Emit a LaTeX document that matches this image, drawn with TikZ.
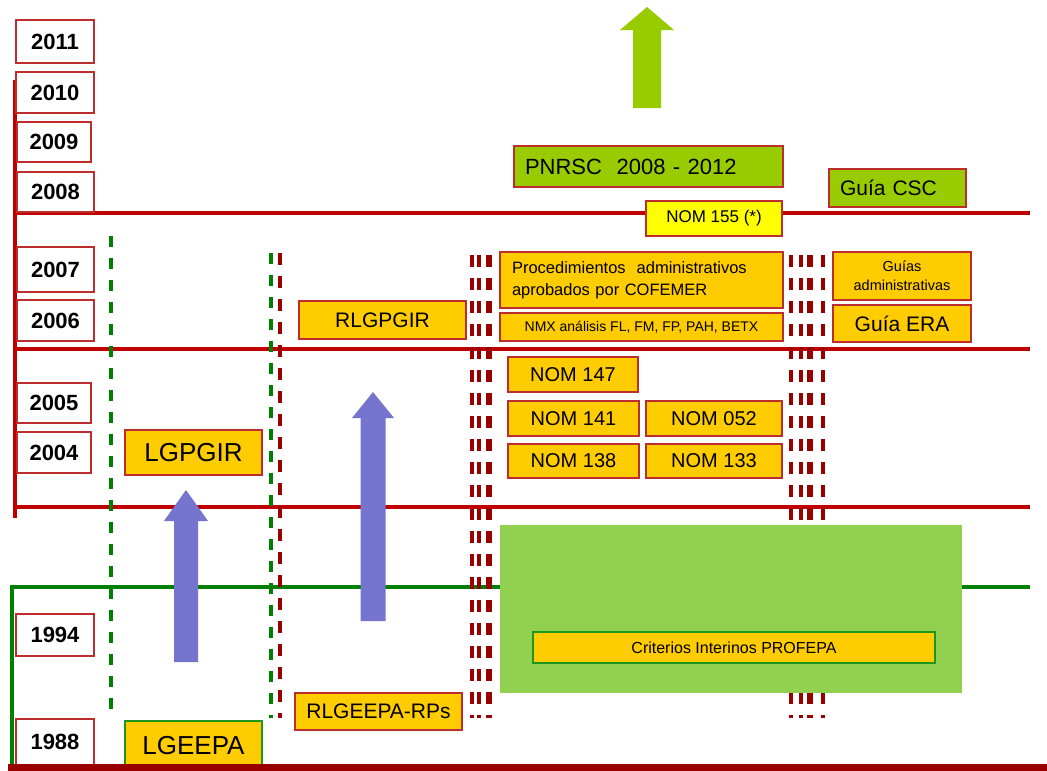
\documentclass[tikz,border=0pt]{standalone}
\usepackage{fontspec}
\setmainfont{Liberation Sans}
\definecolor{lred}{RGB}{192,0,0}
\definecolor{dred}{RGB}{153,0,0}
\definecolor{bred}{RGB}{190,45,45}
\definecolor{gold}{RGB}{255,204,0}
\definecolor{yel}{RGB}{255,255,0}
\definecolor{lime}{RGB}{153,204,0}
\definecolor{dgreen}{RGB}{0,128,0}
\definecolor{mgreen}{RGB}{30,150,30}
\definecolor{lgreen}{RGB}{146,208,80}
\definecolor{lav}{RGB}{117,117,207}
\tikzset{
  yearbox/.style={draw=bred, line width=1.5pt, fill=white, inner sep=0pt, font=\fontsize{22pt}{24pt}\selectfont\bfseries},
  gbox/.style={draw=bred, line width=2pt, fill=gold, inner sep=0pt},
  limebox/.style={draw=bred, line width=2pt, fill=lime, inner sep=0pt},
  redline/.style={lred, line width=3.5pt},
  greenline/.style={dgreen, line width=4pt},
  rdash/.style={dred, dash pattern=on 12pt off 11pt},
  gdash/.style={dgreen, line width=4pt, dash pattern=on 11pt off 11pt},
  uparrow/.style={fill=lav, draw=none},
}
\begin{document}
\begin{tikzpicture}[x=1pt, y=-1pt]
\useasboundingbox (0,0) rectangle (1047,771);

% timeline frame lines
\draw[redline] (15,80) -- (15,518);
\draw[redline] (15,213) -- (1030,213);
\draw[redline] (15,349) -- (1030,349);
\draw[redline] (15,507) -- (1030,507);
\draw[greenline] (1030,587) -- (12,587) -- (12,771);

% dashed separators
\draw[gdash] (111,236) -- (111,718);
\draw[gdash] (271,253) -- (271,718);
\draw[rdash, line width=4pt] (280,253) -- (280,718);
\draw[rdash, line width=4pt] (472,255) -- (472,718);
\draw[rdash, line width=3.5pt] (479,255) -- (479,718);
\draw[rdash, line width=6pt] (489,255) -- (489,718);
\draw[rdash, line width=4.5pt] (791,255) -- (791,718);
\draw[rdash, line width=4.5pt] (801,255) -- (801,718);
\draw[rdash, line width=6pt] (810,255) -- (810,718);
\draw[rdash, line width=4pt] (823,255) -- (823,718);

% years
\node[yearbox, minimum width=78pt, minimum height=43pt] (y2011) at (55,41.5) {2011};
\node[yearbox, minimum width=78pt, minimum height=41pt] (y2010) at (55,92.5) {2010};
\node[yearbox, minimum width=74pt, minimum height=40pt] (y2009) at (54,142) {2009};
\node[yearbox, minimum width=77pt, minimum height=40pt] (y2008) at (55.5,192) {2008};
\node[yearbox, minimum width=77pt, minimum height=45pt] (y2007) at (55.5,269.5) {2007};
\node[yearbox, minimum width=77pt, minimum height=41pt] (y2006) at (55.5,320.5) {2006};
\node[yearbox, minimum width=74pt, minimum height=40pt] (y2005) at (54,403) {2005};
\node[yearbox, minimum width=74pt, minimum height=41pt] (y2004) at (54,452.5) {2004};
\node[yearbox, minimum width=78pt, minimum height=42pt] (y1994) at (55,635) {1994};
\node[yearbox, minimum width=78pt, minimum height=46pt] (y1988) at (55,742) {1988};

% big green area
\node[fill=lgreen, inner sep=0pt, minimum width=462pt, minimum height=168pt] (area) at (731,609) {};
\node[draw=mgreen, line width=2pt, fill=gold, inner sep=0pt, minimum width=402pt, minimum height=31pt,
      font=\fontsize{16pt}{18pt}\selectfont] (crit) at (734,647.5) {Criterios Interinos PROFEPA};

% laws
\node[gbox, minimum width=137pt, minimum height=45pt, font=\fontsize{26pt}{28pt}\selectfont] (lgpgir) at (193.5,452.5) {LGPGIR};
\node[draw=mgreen, line width=2pt, fill=gold, inner sep=0pt, minimum width=137pt, minimum height=49pt,
      font=\fontsize{26pt}{28pt}\selectfont] (lgeepa) at (193.5,745.5) {LGEEPA};
\node[gbox, minimum width=167pt, minimum height=38pt, font=\fontsize{21pt}{23pt}\selectfont] (rlgpgir) at (382.5,320) {RLGPGIR};
\node[gbox, minimum width=167pt, minimum height=37pt, font=\fontsize{21pt}{23pt}\selectfont] (rlgeepa) at (378.5,711.5) {RLGEEPA-RPs};

% programmes and norms
\node[limebox, text width=247pt, inner xsep=11pt, align=left, minimum height=41pt,
      font=\fontsize{22pt}{24pt}\selectfont] (pnrsc) at (648.5,166.5) {PNRSC~~2008 - 2012};
\node[draw=bred, line width=2pt, fill=yel, inner sep=0pt, minimum width=136pt, minimum height=35pt,
      font=\fontsize{17pt}{19pt}\selectfont] (nom155) at (714,218.5) {NOM 155 (*)};
\node[limebox, text width=115pt, inner xsep=11pt, align=left, minimum height=38pt,
      font=\fontsize{21pt}{23pt}\selectfont] (csc) at (897.5,188) {Guía CSC};
\node[gbox, text width=259pt, inner xsep=12pt, align=left, minimum height=56pt,
      font=\fontsize{16.5pt}{22pt}\selectfont] (proc) at (641.5,280) {Procedimientos~~administrativos\\aprobados por COFEMER};
\node[gbox, minimum width=283pt, minimum height=28pt, font=\fontsize{14pt}{16pt}\selectfont] (nmx) at (641.5,327) {NMX análisis FL, FM, FP, PAH, BETX};
\node[gbox, minimum width=138pt, minimum height=48pt, align=center,
      font=\fontsize{14.5pt}{19pt}\selectfont] (gadm) at (902,276) {Guías\\administrativas};
\node[gbox, minimum width=138pt, minimum height=37pt, font=\fontsize{21pt}{23pt}\selectfont] (gera) at (902,323.5) {Guía ERA};

\tikzset{nombox/.style={gbox, minimum height=35pt, font=\fontsize{20pt}{22pt}\selectfont}}
\node[nombox, minimum width=130pt] (n147) at (573,374.5) {NOM 147};
\node[nombox, minimum width=131pt] (n141) at (573.5,418.5) {NOM 141};
\node[nombox, minimum width=136pt] (n052) at (714,418.5) {NOM 052};
\node[nombox, minimum width=131pt, minimum height=34pt] (n138) at (573.5,461) {NOM 138};
\node[nombox, minimum width=136pt, minimum height=34pt] (n133) at (714,461) {NOM 133};

% arrows
\fill[uparrow] (174,662) -- (174,521) -- (164,521) -- (186,490) -- (208,521) -- (198,521) -- (198,662) -- cycle;
\fill[uparrow] (360.5,621) -- (360.5,418) -- (352,418) -- (373,392) -- (394,418) -- (385.5,418) -- (385.5,621) -- cycle;
\fill[lime] (633,108) -- (633,30) -- (620,30) -- (647,7) -- (674,30) -- (661,30) -- (661,108) -- cycle;

% bottom bar
\draw[dred, line width=7pt] (8,767) -- (1047,767);
\end{tikzpicture}
\end{document}
